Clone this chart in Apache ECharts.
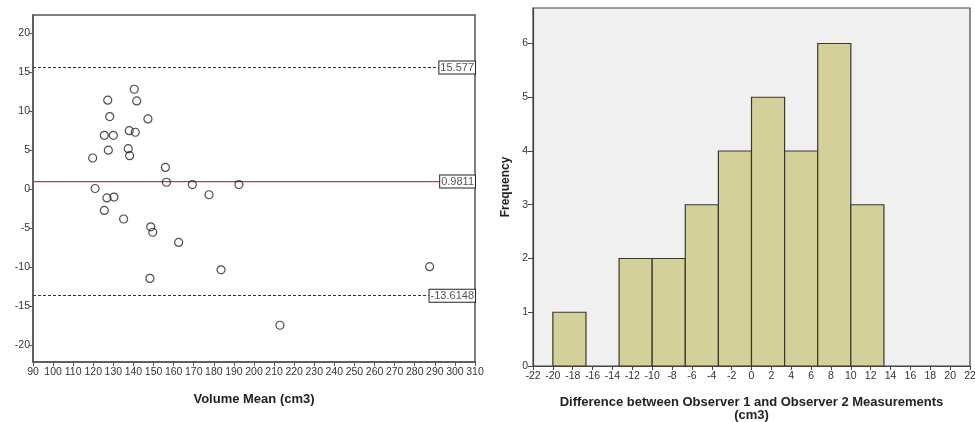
<!DOCTYPE html>
<html>
<head>
<meta charset="utf-8">
<script src="https://cdn.jsdelivr.net/npm/echarts@6/dist/echarts.min.js"></script>
<style>
  html, body { margin: 0; padding: 0; background: #fff; }
  #chart { width: 975px; height: 422px; }
</style>
</head>
<body>
<div id="chart"></div>
<script>
// Bland-Altman: mean volume vs difference
const meanVol = [119.7, 120.9, 127.2, 128.2, 125.5, 130.0, 127.5, 140.4, 141.6, 147.2,
                 137.9, 140.9, 137.4, 138.1, 155.9, 156.4, 169.3, 192.5, 177.6, 126.8,
                 130.3, 125.5, 135.1, 148.6, 149.6, 162.5, 148.2, 183.6, 287.4, 212.9];
const diffVol = [4.0, 0.1, 11.4, 9.3, 6.9, 6.9, 5.0, 12.8, 11.3, 9.0,
                 7.5, 7.3, 5.2, 4.3, 2.8, 0.9, 0.6, 0.6, -0.7, -1.1,
                 -1.0, -2.7, -3.8, -4.8, -5.5, -6.8, -11.4, -10.3, -9.9, -17.4];
const upperLoa = 15.577;
const meanDiff = 0.9811;
const lowerLoa = -13.6148;
const leftYTicks = [-20, -15, -10, -5, 0, 5, 10, 15, 20];

// Histogram of differences
const binStart = [-20, -16.667, -13.333, -10, -6.667, -3.333, 0, 3.333, 6.667, 10];
const binEnd   = [-16.667, -13.333, -10, -6.667, -3.333, 0, 3.333, 6.667, 10, 13.333];
const binCount = [1, 0, 2, 2, 3, 4, 5, 4, 6, 3];
const freqTicks = [0, 1, 2, 3, 4, 5, 6];

const font = 'Liberation Sans, Arial, sans-serif';
const chart = echarts.init(document.getElementById('chart'), null, {renderer: 'canvas'});

const boxStyle = {
    fontFamily: font,
    fontSize: 11,
    backgroundColor: '#fff',
    borderColor: '#222',
    borderWidth: 1,
    padding: [1, 1, 0, 1]
};

const refLabel = Object.assign({
    show: true,
    position: 'end',
    distance: 0,
    align: 'right',
    verticalAlign: 'middle',
    formatter: '{b}',
    color: '#555'
}, boxStyle);

const option = {
    animation: false,
    grid: [
        {left: 33, right: 500, top: 15, bottom: 60, outerBoundsMode: 'none', containLabel: false,
         show: true, borderColor: '#555', borderWidth: 1.5, backgroundColor: '#fff'},
        {left: 533, right: 5, top: 8, bottom: 56, outerBoundsMode: 'none', containLabel: false,
         show: true, borderColor: '#444', borderWidth: 1.2, backgroundColor: '#f0f0f0'}
    ],
    xAxis: [
        {
            gridIndex: 0, type: 'value', min: 90, max: 310, interval: 10,
            name: 'Volume Mean (cm3)', nameLocation: 'middle', nameGap: 31,
            nameTextStyle: {fontFamily: font, fontSize: 13, fontWeight: 'bold', color: '#222'},
            axisLine: {show: true, onZero: false, lineStyle: {color: '#555', width: 1.5}},
            axisTick: {show: true, length: 4, lineStyle: {color: '#555'}},
            axisLabel: {fontFamily: font, fontSize: 10.5, color: '#333', margin: 5, hideOverlap: false, interval: 0},
            splitLine: {show: false}
        },
        {
            gridIndex: 1, type: 'value', min: -22, max: 22, interval: 2,
            name: 'Difference between Observer 1 and Observer 2 Measurements\n(cm3)',
            nameLocation: 'middle', nameGap: 30,
            nameTextStyle: {fontFamily: font, fontSize: 13, fontWeight: 'bold', color: '#222', lineHeight: 13,
                            verticalAlign: 'top'},
            axisLine: {show: true, onZero: false, lineStyle: {color: '#444', width: 1.2}},
            axisTick: {show: true, length: 4, lineStyle: {color: '#444'}},
            axisLabel: {fontFamily: font, fontSize: 10.5, color: '#333', margin: 5, hideOverlap: false, interval: 0},
            splitLine: {show: false}
        }
    ],
    yAxis: [
        {
            gridIndex: 0, type: 'value', min: -22.1, max: 22.3,
            axisLine: {show: true, onZero: false, lineStyle: {color: '#555', width: 1.5}},
            axisTick: {show: true, length: 4, customValues: leftYTicks, lineStyle: {color: '#555'}},
            axisLabel: {fontFamily: font, fontSize: 10.5, color: '#333', margin: 3, customValues: leftYTicks},
            splitLine: {show: false}
        },
        {
            gridIndex: 1, type: 'value', min: 0, max: 6.66,
            name: 'Frequency', nameLocation: 'middle', nameGap: 21,
            nameTextStyle: {fontFamily: font, fontSize: 12, fontWeight: 'bold', color: '#222'},
            axisLine: {show: true, onZero: false, lineStyle: {color: '#444', width: 1.2}},
            axisTick: {show: true, length: 5, customValues: freqTicks, lineStyle: {color: '#444'}},
            axisLabel: {fontFamily: font, fontSize: 10.5, color: '#333', margin: 5, customValues: freqTicks},
            splitLine: {show: false}
        }
    ],
    series: [
        {
            type: 'scatter', xAxisIndex: 0, yAxisIndex: 0,
            data: meanVol.map((m, i) => [m, diffVol[i]]),
            symbol: 'circle', symbolSize: 8,
            itemStyle: {color: 'rgba(255,255,255,0)', borderColor: '#222', borderWidth: 1.2},
            markLine: {
                silent: true,
                symbol: 'none',
                lineStyle: {color: '#333', type: [3, 2], width: 1.2},
                label: refLabel,
                data: [
                    {name: String(upperLoa), yAxis: upperLoa},
                    {name: String(lowerLoa), yAxis: lowerLoa}
                ]
            }
        },
        {
            // mean difference line (red) with its value box
            type: 'custom', xAxisIndex: 0, yAxisIndex: 0,
            silent: true,
            data: [[meanDiff]],
            renderItem: function (params, api) {
                const cs = params.coordSys;
                const y = api.coord([0, api.value(0)])[1];
                return {
                    type: 'group',
                    children: [
                        {type: 'line', shape: {x1: cs.x, y1: y, x2: cs.x + cs.width, y2: y},
                         style: {stroke: '#d83030', lineWidth: 1.2}},
                        {type: 'text', z2: 10,
                         style: Object.assign({text: String(meanDiff), x: cs.x + cs.width, y: y,
                                               align: 'right', verticalAlign: 'middle', fill: '#555'}, boxStyle)}
                    ]
                };
            }
        },
        {
            type: 'custom', xAxisIndex: 1, yAxisIndex: 1,
            data: binStart.map((s, i) => [s, binEnd[i], binCount[i]]),
            renderItem: function (params, api) {
                if (api.value(2) === 0) return null;
                const p0 = api.coord([api.value(0), api.value(2)]);
                const p1 = api.coord([api.value(1), 0]);
                return {
                    type: 'rect',
                    shape: {x: p0[0], y: p0[1], width: p1[0] - p0[0], height: p1[1] - p0[1]},
                    style: {fill: '#d3d099', stroke: '#3a3a2a', lineWidth: 1.2}
                };
            }
        }
    ]
};

chart.setOption(option);
</script>
</body>
</html>
